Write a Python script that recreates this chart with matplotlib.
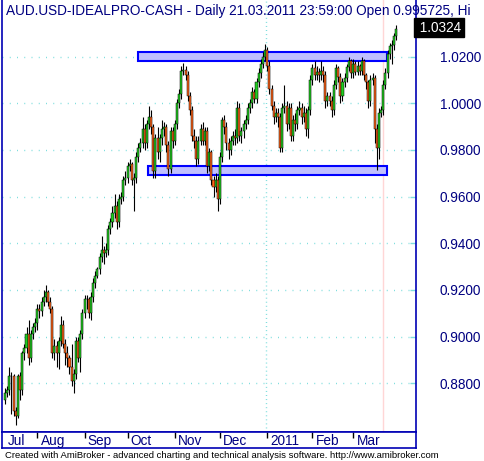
import matplotlib
matplotlib.use('Agg')
import matplotlib.pyplot as plt
from matplotlib.patches import Rectangle
from matplotlib.transforms import blended_transform_factory

# ---------------- data (AUD/USD daily, Jul 2010 - 21 Mar 2011) ----------------
opens = [
    .873, .876, .877, .883, .883, .868, .866, .883, .877, .893,
    .895, .901, .891, .901, .904, .906, .912, .911, .915, .917,
    .919, .915, .912, .893, .896, .893, .898, .905, .897, .893,
    .891, .887, .881, .884, .898, .891, .901, .910, .916, .916,
    .910, .917, .923, .926, .929, .934, .937, .936, .937, .946,
    .949, .953, .956, .949, .959, .960, .967, .968, .973, .974,
    .967, .968, .977, .981, .983, .989, .983, .991, .994, .990,
    .971, .985, .979, .985, .989, .990, .982, .972, .988, .984,
    .991, 1.000, 1.004, 1.014, 1.0145, 1.012, 1.003, .997, .986, .984,
    .976, .984, .989, .984, .988, .973, .979, .967, .964, .967,
    .959, .977, .993, .990, .983, .980, .984, .986, .985, .998,
    .986, .988, .991, .993, .998, 1.000, 1.005, 1.002, 1.009, 1.013,
    1.017, 1.020, 1.023, 1.016, 1.006, .999, .994, .996, .994, .981,
    .998, .999, .991, .998, .986, .993, .991, .997, .998, .994,
    .996, .989, .997, 1.010, 1.015, 1.012, 1.0135, 1.012, 1.014, 1.012,
    1.001, 1.003, 1.001, .997, 1.008, 1.015, 1.0115, 1.003, 1.009, 1.011,
    1.0155, 1.018, 1.013, 1.017, 1.0135, 1.016, 1.014, 1.018, 1.012, 1.009,
    1.001, 1.010, 1.011, .989, .981, .996, .997, 1.008, 1.013, 1.021,
    1.0245, 1.025, 1.029,
]
highs = [
    .878, .879, .887, .885, .884, .870, .884, .885, .894, .897,
    .904, .907, .903, .906, .908, .914, .914, .917, .920, .922,
    .920, .917, .913, .899, .898, .900, .909, .907, .899, .896,
    .892, .897, .886, .900, .900, .903, .912, .918, .918, .917,
    .919, .925, .928, .930, .936, .943, .939, .940, .948, .951,
    .956, .961, .958, .961, .962, .969, .971, .975, .976, .975,
    .970, .979, .983, .985, .994, .991, .993, .999, .997, .991,
    .987, .990, .987, .993, .992, .991, .984, .990, .990, .993,
    1.002, 1.006, 1.016, 1.0175, 1.016, 1.014, 1.005, .999, .989, .986,
    .986, .991, .992, .990, .990, .981, .980, .969, .970, .969,
    .979, .994, .995, .992, .985, .986, .988, .989, 1.001, 1.000,
    .990, .993, .995, 1.000, 1.002, 1.007, 1.006, 1.011, 1.015, 1.019,
    1.022, 1.0255, 1.024, 1.018, 1.008, 1.001, .998, .998, .996, 1.000,
    1.008, 1.001, 1.000, 1.000, .995, .996, .999, 1.001, 1.000, .999,
    .998, .999, 1.012, 1.017, 1.018, 1.016, 1.015, 1.018, 1.016, 1.014,
    1.005, 1.005, 1.003, 1.010, 1.017, 1.016, 1.013, 1.011, 1.013, 1.017,
    1.020, 1.019, 1.019, 1.018, 1.018, 1.017, 1.020, 1.019, 1.013, 1.010,
    1.012, 1.013, 1.012, .991, .998, .999, 1.010, 1.015, 1.023, 1.026,
    1.027, 1.030, 1.0335,
]
lows = [
    .871, .874, .875, .867, .866, .862, .865, .873, .875, .890,
    .893, .888, .889, .899, .902, .903, .908, .909, .913, .915,
    .913, .910, .891, .890, .887, .886, .896, .895, .888, .887,
    .884, .879, .876, .882, .889, .885, .899, .908, .912, .908,
    .907, .915, .921, .925, .927, .932, .931, .934, .935, .944,
    .947, .951, .946, .947, .957, .958, .965, .966, .971, .965,
    .954, .966, .975, .979, .981, .980, .981, .989, .987, .968,
    .968, .976, .975, .982, .986, .979, .969, .970, .981, .982,
    .989, .998, 1.002, 1.012, 1.010, 1.001, .995, .984, .981, .973,
    .974, .982, .982, .982, .970, .971, .965, .960, .962, .954,
    .957, .975, .987, .980, .976, .978, .982, .982, .983, .984,
    .983, .985, .989, .991, .996, .998, 1.000, 1.000, 1.007, 1.011,
    1.015, 1.018, 1.014, 1.004, .997, .991, .992, .990, .979, .979,
    .996, .988, .989, .984, .984, .988, .989, .995, .991, .992,
    .986, .985, .995, 1.008, 1.010, 1.010, 1.009, 1.010, 1.009, .998,
    .999, .999, .994, .995, 1.006, 1.009, 1.000, 1.001, 1.007, 1.009,
    1.014, 1.011, 1.011, 1.012, 1.012, 1.012, 1.012, 1.010, 1.006, .998,
    .999, 1.008, .983, .9715, .976, .994, .995, 1.006, 1.011, 1.019,
    1.017, 1.023, 1.027,
]
closes = [
    .876, .877, .883, .883, .868, .866, .883, .877, .893, .895,
    .901, .891, .901, .904, .906, .912, .911, .915, .917, .919,
    .915, .912, .893, .896, .893, .898, .905, .897, .893, .891,
    .887, .881, .884, .898, .891, .901, .910, .916, .916, .910,
    .917, .923, .926, .929, .934, .937, .936, .937, .946, .949,
    .953, .956, .949, .959, .960, .967, .968, .973, .974, .967,
    .968, .977, .981, .983, .989, .983, .991, .994, .990, .971,
    .985, .979, .985, .989, .990, .982, .972, .988, .984, .991,
    1.000, 1.004, 1.014, 1.0145, 1.012, 1.003, .997, .986, .984, .976,
    .984, .989, .984, .988, .973, .979, .967, .964, .967, .959,
    .977, .993, .990, .983, .980, .984, .986, .985, .998, .986,
    .988, .991, .993, .998, 1.000, 1.005, 1.002, 1.009, 1.013, 1.017,
    1.020, 1.023, 1.016, 1.006, .999, .994, .996, .994, .981, .998,
    .999, .991, .998, .986, .993, .991, .997, .998, .994, .996,
    .989, .997, 1.010, 1.015, 1.012, 1.0135, 1.012, 1.014, 1.012, 1.001,
    1.003, 1.001, .997, 1.008, 1.015, 1.0115, 1.003, 1.009, 1.011, 1.0155,
    1.018, 1.013, 1.017, 1.0135, 1.016, 1.014, 1.018, 1.012, 1.009, 1.001,
    1.010, 1.011, .989, .981, .996, .997, 1.008, 1.013, 1.021, 1.0245,
    1.025, 1.029, 1.032,
]

month_labels = ['Jul', 'Aug', 'Sep', 'Oct', 'Nov', 'Dec', '2011', 'Feb', 'Mar']
month_start_bars = [0, 15, 37, 57, 79, 100, 122, 143, 162]
year_break_bar = 121.5
selected_bar = 176

price_ticks = [0.88, 0.90, 0.92, 0.94, 0.96, 0.98, 1.00, 1.02]
last_value = 1.0324

# horizontal zones drawn on the chart (bar from, bar to, low, high)
zone_start = [62.0, 66.6]
zone_end = [177.8, 177.8]
zone_low = [1.0180, 0.9692]
zone_high = [1.0219, 0.9731]

title = 'AUD.USD-IDEALPRO-CASH - Daily 21.03.2011 23:59:00 Open 0.995725, Hi'
footer = ('Created with AmiBroker - advanced charting and technical analysis '
          'software. http://www.amibroker.com')

# ---------------- style ----------------
W, H = 485, 461
FRAME = '#0000b4'
NAVY = '#000080'
GREEN = '#22cc22'
ORANGE = '#ff6418'
GRID = '#7fdede'
plt.rcParams['font.family'] = ['Liberation Sans', 'DejaVu Sans']

fig = plt.figure(figsize=(W / 100, H / 100), dpi=100)
fig.patch.set_facecolor('white')

ax = fig.add_axes([2 / W, 1 - 432 / H, 414 / W, 432 / H])
ax.set_xlim(-1.4, 191.2)
ax.set_ylim(0.8591, 1.0443)

# grid
for p in price_ticks:
    ax.axhline(p, color=GRID, lw=1, linestyle=(0, (0.72, 4.5)), zorder=0)
ax.axvline(year_break_bar, color=GRID, lw=1, linestyle=(0, (0.72, 2.2)), zorder=0)
ax.axvline(selected_bar, color='#ffd6d6', lw=1, zorder=0.5)

# zones
for s, e, lo, hi in zip(zone_start, zone_end, zone_low, zone_high):
    ax.add_patch(Rectangle((s, lo), e - s, hi - lo, facecolor='#c0c0ff',
                           edgecolor='#0000ff', lw=1.5, zorder=1))

# candles
bw = 0.95
for i, (o, h, l, c) in enumerate(zip(opens, highs, lows, closes)):
    ax.vlines(i, l, h, color='black', lw=0.8, zorder=2)
    col = GREEN if c >= o else ORANGE
    lo_b, hi_b = min(o, c), max(o, c)
    hgt = max(hi_b - lo_b, 0.0003)
    ax.add_patch(Rectangle((i - bw / 2, lo_b), bw, hgt, facecolor=col,
                           edgecolor='black', lw=0.35, zorder=3))

# axes styling
ax.spines['top'].set_visible(False)
for side in ['left', 'right', 'bottom']:
    ax.spines[side].set_color(FRAME)
    ax.spines[side].set_linewidth(1.2)
ax.set_xticks([])
ax.yaxis.tick_right()
ax.set_yticks(price_ticks)
ax.set_yticklabels([f'{p:.4f}' for p in price_ticks])
ax.tick_params(axis='y', direction='in', length=4, width=1, color=GRID,
               labelcolor=NAVY, labelsize=9.8, pad=17)

# last value label
trans = blended_transform_factory(ax.transAxes, ax.transData)
ax.text(1.0, last_value, f' {last_value:.4f}', transform=trans, ha='left',
        va='center', color='white', fontsize=9.8, clip_on=False,
        bbox=dict(boxstyle='square,pad=0.18', fc='black', ec='black'))

# date panel
ax2 = fig.add_axes([2 / W, 1 - 448 / H, 414 / W, 16 / H])
ax2.set_xlim(ax.get_xlim())
ax2.set_ylim(0, 1)
ax2.set_xticks([])
ax2.set_yticks([])
for side in ['top', 'left', 'right', 'bottom']:
    ax2.spines[side].set_color(FRAME)
    ax2.spines[side].set_linewidth(1.2)
for k, (lab, b) in enumerate(zip(month_labels, month_start_bars)):
    if k > 0:
        ax2.vlines(b, 0.62, 1.0, color='black', lw=1)
    ax2.text(b + 1.5, 0.42, lab, ha='left', va='center', color=NAVY, fontsize=9.8)

# title and footer
fig.text(6 / W, 1 - 15 / H, title, ha='left', va='baseline', color=NAVY, fontsize=9.8)
fig.text(5 / W, 1 - 455 / H, footer, ha='left', va='center', color='black', fontsize=6.8)

fig.savefig('out.png', dpi=100)
